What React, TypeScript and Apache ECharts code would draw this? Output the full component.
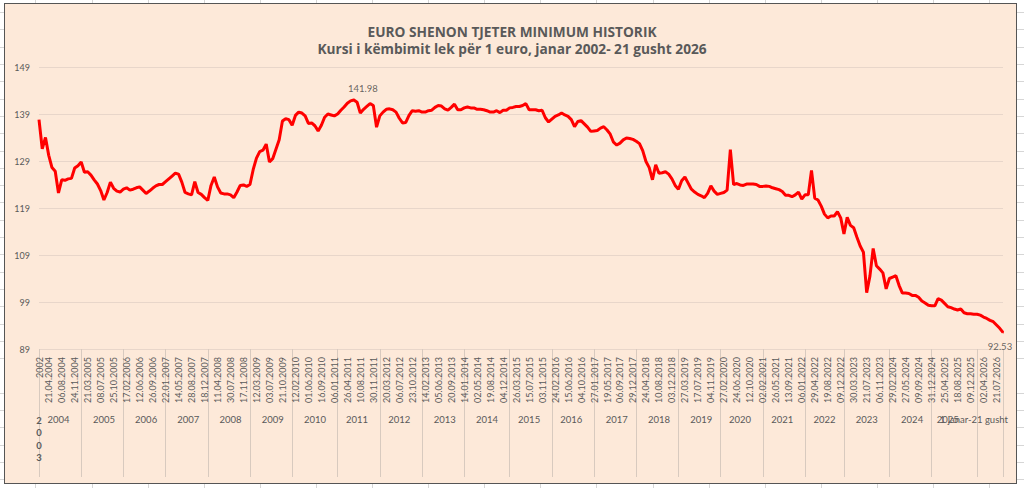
import React, { useEffect, useRef } from 'react';
import * as echarts from 'echarts';

const FONT = 'Lato, "Liberation Sans", sans-serif';
const TITLE_FONT = '"Open Sans", Lato, sans-serif';

// tick labels of the date level (every 4th point after the first)
const dateLabels = [
  '2002', '21.04.2004', '06.08.2004', '24.11.2004', '21.03.2005', '08.07.2005', '25.10.2005',
  '17.02.2006', '12.06.2006', '26.09.2006', '22.01.2007', '14.05.2007', '28.08.2007', '18.12.2007',
  '11.04.2008', '30.07.2008', '17.11.2008', '12.03.2009', '03.07.2009', '21.10.2009', '12.02.2010',
  '01.06.2010', '16.09.2010', '06.01.2011', '26.04.2011', '10.08.2011', '30.11.2011', '20.03.2012',
  '06.07.2012', '23.10.2012', '14.02.2013', '05.06.2013', '20.09.2013', '14.01.2014', '02.05.2014',
  '19.08.2014', '04.12.2014', '26.03.2015', '15.07.2015', '03.11.2015', '24.02.2016', '15.06.2016',
  '04.10.2016', '27.01.2017', '19.05.2017', '06.09.2017', '29.12.2017', '24.04.2018', '10.08.2018',
  '03.12.2018', '27.03.2019', '17.07.2019', '04.11.2019', '27.02.2020', '24.06.2020', '12.10.2020',
  '02.02.2021', '26.05.2021', '13.09.2021', '06.01.2022', '29.04.2022', '19.08.2022', '09.12.2022',
  '30.03.2023', '21.07.2023', '06.11.2023', '29.02.2024', '27.05.2024', '09.09.2024', '31.12.2024',
  '25.04.2025', '18.08.2025', '09.12.2025', '02.04.2026', '21.07.2026',
];

// year level of the category axis
const yearNames = [
  '2\n0\n0\n3', '2004', '2005', '2006', '2007', '2008', '2009', '2010', '2011', '2012', '2013',
  '2014', '2015', '2016', '2017', '2018', '2019', '2020', '2021', '2022', '2023', '2024', '2025',
];
const yearLabelIdx = [
  0, 6, 20, 33, 46, 59, 72, 85, 98, 111, 125, 138, 151, 164, 178, 191, 204, 216, 229, 242, 255,
  269, 280,
];
const lastPeriodName = '1 janar-21 gusht';
const lastPeriodIdx = 288;
const yearBreakIdx = [
  0, 13, 26, 39, 52, 65, 78, 92, 105, 118, 131, 145, 158, 171, 184, 197, 210, 223, 236, 248, 262,
  275, 289, 297,
];

// lek per euro
const rates2002to2009 = [
  137.8, 131.6, 134.0, 130.2, 127.6, 126.8, 122.2, 125.0, 124.9, 125.2,
  125.3, 127.5, 128.0, 128.8, 126.6, 126.7, 126.0, 125.0, 124.1, 122.7,
  120.7, 122.3, 124.5, 123.2, 122.6, 122.4, 123.0, 123.3, 122.8, 123.0,
  123.3, 123.5, 122.8, 122.1, 122.6, 123.2, 123.7, 124.0, 124.0, 124.6,
  125.2, 125.8, 126.4, 126.2, 124.5, 122.3, 122.0, 121.8, 124.6, 122.3,
  121.9, 121.2, 120.6, 123.8, 125.6, 123.5, 122.2, 122.0, 122.0, 121.8,
  121.2, 122.4, 123.8, 123.9, 123.6, 124.0, 127.2, 129.6, 131.0, 131.3,
  132.6, 128.8,
];
const rates2010to2015 = [
  129.5, 131.5, 133.5, 137.5, 138.0, 137.8, 136.6, 138.7, 139.4, 139.2,
  138.6, 137.0, 137.1, 136.5, 135.4, 136.6, 138.3, 139.0, 138.8, 138.6,
  139.0, 139.8, 140.5, 141.3, 141.8, 141.98, 141.5, 139.2, 140.0, 140.6,
  141.2, 140.8, 136.2, 138.6, 139.4, 140.0, 140.1, 139.9, 139.4, 138.1,
  137.1, 137.2, 138.7, 139.7, 139.6, 139.7, 139.4, 139.4, 139.7, 139.8,
  140.4, 140.8, 140.7, 140.1, 139.8, 140.4, 141.1, 139.9, 139.9, 140.3,
  140.5, 140.3, 140.3, 140.0, 140.0, 139.9, 139.7, 139.4, 139.4, 139.7,
  139.3, 139.8, 139.8,
];
const rates2016to2020 = [
  140.3, 140.4, 140.6, 140.6, 140.8, 141.2, 139.9, 139.9, 139.9, 139.7,
  139.8, 138.2, 137.3, 137.9, 138.5, 138.8, 139.2, 138.8, 138.5, 137.8,
  136.3, 137.4, 137.6, 136.9, 136.2, 135.3, 135.4, 135.5, 136.0, 136.3,
  135.6, 134.7, 133.0, 132.4, 132.8, 133.5, 133.9, 133.8, 133.6, 133.2,
  132.7, 131.2, 128.9, 127.6, 125.0, 128.2, 126.4, 126.5, 126.7, 126.2,
  125.2, 123.8, 123.0, 124.8, 125.6, 124.3, 123.0, 122.4, 121.9, 121.6,
  121.2, 122.1, 123.7, 122.6, 121.9, 122.1, 122.3, 122.8, 131.4, 124.0,
  124.2, 123.9, 123.8, 124.1, 124.1,
];
const rates2021to2026 = [
  124.1, 124.0, 123.6, 123.6, 123.7, 123.6, 123.3, 123.1, 122.9, 122.5,
  121.7, 121.7, 121.4, 121.8, 122.4, 120.9, 121.8, 121.8, 127.0, 121.1,
  120.7, 119.4, 117.7, 116.9, 117.3, 117.3, 118.2, 116.9, 113.5, 117.0,
  115.3, 114.8, 112.8, 110.9, 109.6, 101.0, 104.5, 110.4, 106.7, 106.0,
  105.2, 101.8, 104.0, 104.3, 104.6, 102.5, 100.9, 100.9, 100.8, 100.4,
  100.4, 100.0, 99.2, 98.8, 98.3, 98.2, 98.2, 99.7, 99.4, 98.7,
  98.0, 97.8, 97.5, 97.3, 97.5, 96.7, 96.5, 96.5, 96.4, 96.4,
  96.2, 95.8, 95.5, 95.1, 94.8, 94.1, 93.4, 92.53,
];

const rates = [...rates2002to2009, ...rates2010to2015, ...rates2016to2020, ...rates2021to2026];
const categories = rates.map((_, i) => String(i));

const dateAt = new Map<number, string>(dateLabels.map((d, j) => [j === 0 ? 0 : 4 * j - 1, d]));
const yearAt = new Map<number, string>(yearNames.map((y, k) => [yearLabelIdx[k], y]));
const breakSet = new Set<number>(yearBreakIdx);

const App: React.FC = () => {
  const chartRef = useRef<HTMLDivElement>(null);

  useEffect(() => {
    if (!chartRef.current) return;
    const chart = echarts.init(chartRef.current, undefined, { renderer: 'svg' });
    const maxIdx = rates.indexOf(Math.max(...rates));
    const lastIdx = rates.length - 1;
    const grey = '#595959';
    const labelStyle = { fontSize: 9.5, color: grey, fontFamily: FONT };
    const hiddenAxis = {
      type: 'category',
      data: categories,
      boundaryGap: false,
      position: 'bottom',
      axisLine: { show: false },
      splitLine: { show: false },
    };

    chart.setOption({
      animation: false,
      backgroundColor: 'transparent',
      textStyle: { fontFamily: FONT },
      title: [
        {
          text: 'EURO SHENON TJETER MINIMUM HISTORIK',
          left: 'center',
          top: 19.5,
          textStyle: { fontSize: 13.7, fontWeight: 'bold', color: grey, fontFamily: TITLE_FONT },
        },
        {
          text: 'Kursi i këmbimit lek për 1 euro, janar 2002- 21 gusht 2026',
          left: 'center',
          top: 36.5,
          textStyle: { fontSize: 13.7, fontWeight: 'bold', color: grey, fontFamily: TITLE_FONT },
        },
      ],
      grid: { left: 39, right: 21, top: 67, bottom: 139 },
      xAxis: [
        {
          ...hiddenAxis,
          axisTick: { show: false },
          axisLabel: {
            interval: (i: number) => dateAt.has(i),
            formatter: (v: string) => dateAt.get(Number(v)) ?? '',
            rotate: 90,
            margin: 8,
            fontSize: 9,
            color: grey,
            fontFamily: FONT,
          },
        },
        {
          ...hiddenAxis,
          axisTick: {
            show: true,
            interval: (i: number) => breakSet.has(i),
            length: 128,
            lineStyle: { color: '#D8CABF', width: 1 },
          },
          axisLabel: {
            ...labelStyle,
            interval: (i: number) => yearAt.has(i),
            formatter: (v: string) => {
              const name = yearAt.get(Number(v)) ?? '';
              if (name.includes('\n')) return name.split('\n').map((c) => `{b|${c}}`).join('\n');
              return name;
            },
            margin: 65,
            rich: { b: { ...labelStyle, fontWeight: 'bold', lineHeight: 12.5 } },
          },
        },
        {
          ...hiddenAxis,
          axisTick: { show: false },
          axisLabel: {
            ...labelStyle,
            interval: (i: number) => i === lastPeriodIdx,
            formatter: () => lastPeriodName,
            margin: 65,
          },
        },
      ],
      yAxis: {
        type: 'value',
        min: 89,
        max: 149,
        interval: 10,
        axisLine: { show: false },
        axisTick: { show: false },
        axisLabel: { fontSize: 9, color: grey, margin: 9, fontFamily: FONT },
        splitLine: { lineStyle: { color: '#E8D6CA', width: 1 } },
      },
      series: [
        {
          type: 'line',
          data: rates,
          showSymbol: false,
          lineStyle: { color: '#FF0000', width: 3 },
          itemStyle: { color: '#FF0000' },
          z: 2,
        },
        {
          type: 'scatter',
          symbolSize: 2,
          itemStyle: { color: '#FF0000' },
          z: 3,
          label: {
            show: true,
            formatter: (p: any) => Number(p.value[1]).toFixed(2),
            fontSize: 9.5,
            color: '#404040',
            fontFamily: FONT,
          },
          data: [
            { value: [maxIdx, rates[maxIdx]], label: { position: 'top', offset: [9, 0] } },
            { value: [lastIdx, rates[lastIdx]], label: { position: 'bottom', offset: [-3, 3] } },
          ],
        },
      ],
    });
    return () => chart.dispose();
  }, []);

  return (
    <div
      style={{
        position: 'absolute',
        left: 0,
        top: 0,
        width: 1024,
        height: 488,
        overflow: 'hidden',
        backgroundColor: '#ffffff',
        backgroundImage:
          'repeating-linear-gradient(90deg, transparent 0px, transparent 35.5px, #d6d6d6 35.5px, #d6d6d6 36.5px, transparent 36.5px, transparent 56.1px),' +
          'repeating-linear-gradient(180deg, transparent 0px, transparent 12.2px, #d6d6d6 12.2px, #d6d6d6 13.2px, transparent 13.2px, transparent 17.3px)',
      }}
    >
      <div
        style={{
          position: 'absolute',
          left: 4,
          top: 3,
          width: 1013,
          height: 481,
          boxSizing: 'border-box',
          border: '1.5px solid #555555',
          background: '#FDE9D9',
        }}
      />
      <div ref={chartRef} style={{ position: 'absolute', left: 0, top: 0, width: 1024, height: 488 }} />
    </div>
  );
};

export default App;
